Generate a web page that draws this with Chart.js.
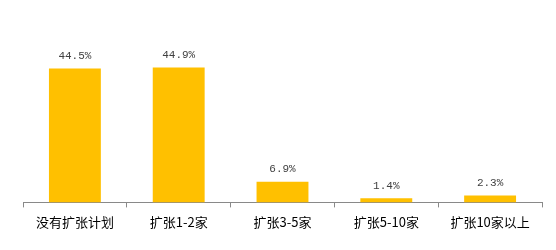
<!DOCTYPE html>
<html>
<head>
<meta charset="utf-8">
<script src="https://cdn.jsdelivr.net/npm/chart.js@4/dist/chart.umd.min.js"></script>
<style>
  html, body { margin: 0; padding: 0; background: #fff; }
  #wrap { width: 556px; height: 250px; }
</style>
</head>
<body>
<div id="wrap"><canvas id="barchart"></canvas></div>
<script>
const categories = ['没有扩张计划', '扩张1-2家', '扩张3-5家', '扩张5-10家', '扩张10家以上'];
const shares = [44.5, 44.9, 6.9, 1.4, 2.3];

// values above bars
const valueLabels = {
  id: 'valueLabels',
  afterDatasetsDraw(chart) {
    const ctx = chart.ctx;
    const meta = chart.getDatasetMeta(0);
    ctx.save();
    ctx.font = '11px "Liberation Mono", monospace';
    ctx.fillStyle = '#404040';
    ctx.textAlign = 'center';
    ctx.textBaseline = 'bottom';
    meta.data.forEach((bar, i) => {
      ctx.fillText(shares[i].toFixed(1) + '%', bar.x, bar.y - 7);
    });
    ctx.restore();
  }
};

const ctx = document.getElementById('barchart').getContext('2d');

const chart = new Chart(ctx, {
  type: 'bar',
  data: {
    labels: categories,
    datasets: [{
      data: shares,
      backgroundColor: '#FFC000',
      categoryPercentage: 1,
      barPercentage: 0.5
    }]
  },
  options: {
    responsive: true,
    maintainAspectRatio: false,
    animation: false,
    layout: { padding: { left: 23, right: 14, top: 22, bottom: 13 } },
    plugins: {
      legend: { display: false },
      tooltip: { enabled: false }
    },
    scales: {
      x: {
        grid: {
          drawOnChartArea: false,
          drawTicks: true,
          tickLength: 5,
          offset: true,
          color: '#898989'
        },
        border: { color: '#898989', width: 1 },
        ticks: {
          color: '#000',
          font: { family: '"Noto Sans CJK SC", sans-serif', size: 13 },
          padding: 7
        }
      },
      y: {
        display: false,
        min: 0,
        max: 60
      }
    }
  },
  plugins: [valueLabels]
});
</script>
</body>
</html>
